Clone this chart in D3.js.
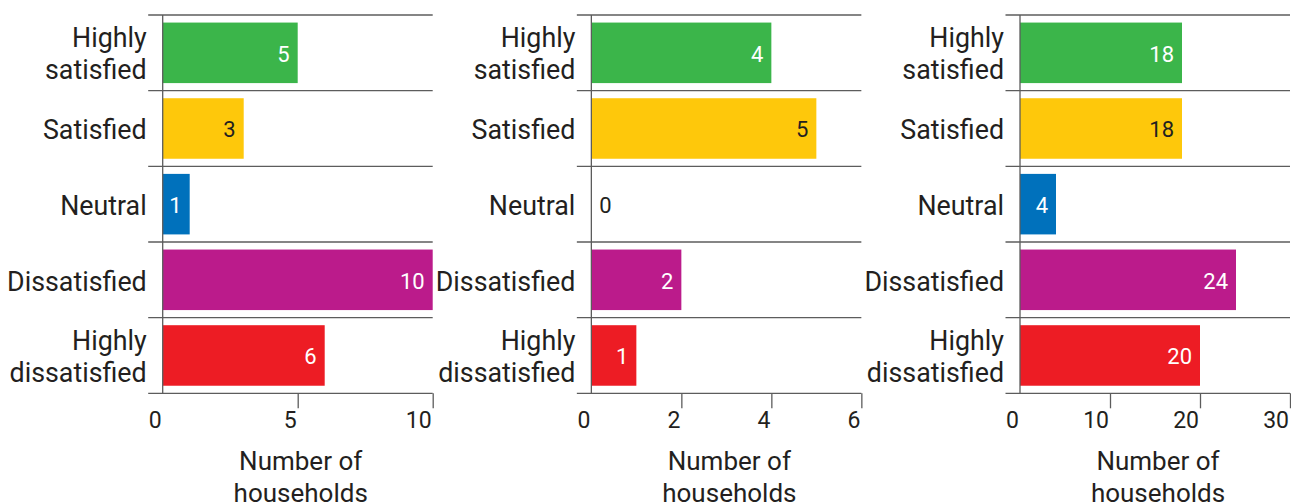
<!DOCTYPE html>
<html>
<head>
<meta charset="utf-8">
<script src="https://cdn.jsdelivr.net/npm/d3@7"></script>
<style>
  body { margin: 0; background: #fff; }
  svg { display: block; font-family: Roboto, "Noto Sans", sans-serif; }
</style>
</head>
<body>
<div id="chart"></div>
<script>
//Data: satisfaction categories and households per panel
const categories = ["Highly satisfied", "Satisfied", "Neutral", "Dissatisfied", "Highly dissatisfied"];
const categoryLines = [["Highly", "satisfied"], ["Satisfied"], ["Neutral"], ["Dissatisfied"], ["Highly", "dissatisfied"]];
const panel1Values = [5, 3, 1, 10, 6];
const panel2Values = [4, 5, 0, 2, 1];
const panel3Values = [18, 18, 4, 24, 20];
const panel1Ticks = [0, 5, 10];
const panel2Ticks = [0, 2, 4, 6];
const panel3Ticks = [0, 10, 20, 30];
const axisTitle = ["Number of", "households"];

const barColors = ["#3bb54a", "#fec80b", "#0071bc", "#bb1b8b", "#ed1c24"];
const labelColors = ["#ffffff", "#231f20", "#ffffff", "#ffffff", "#ffffff"];
const textColor = "#231f20";
const lineColor = "#5c5c5c";

const width = 1291;
const height = 503;

const panels = [
  { values: panel1Values, ticks: panel1Ticks },
  { values: panel2Values, ticks: panel2Ticks },
  { values: panel3Values, ticks: panel3Ticks }
];

//Panel geometry
const panelStep = 428.65;
const axisLeft = 162.7;
const plotWidth = 270;
const plotTop = 15;
const plotBottom = 393.3;

const svg = d3.select("#chart").append("svg")
  .attr("width", width)
  .attr("height", height);

const yscale = d3.scaleBand()
  .domain(categories)
  .range([plotTop, plotBottom])
  .paddingInner(0.2)
  .paddingOuter(0.1);

const step = yscale.step();
const rowTop = (d) => yscale(d) - step * 0.1;

panels.forEach((p, pi) => {
  const g = svg.append("g")
    .attr("transform", `translate(${pi * panelStep + axisLeft},0)`);

  const xscale = d3.scaleLinear()
    .domain([0, d3.max(p.ticks)])
    .range([0, plotWidth]);

  //horizontal row separators (incl. bottom axis line)
  const boundaries = categories.map(rowTop).concat([plotBottom]);
  g.selectAll(".row-line").data(boundaries).join("line")
    .attr("class", "row-line")
    .attr("x1", -14.5)
    .attr("x2", plotWidth)
    .attr("y1", (d) => d)
    .attr("y2", (d) => d)
    .attr("stroke", lineColor)
    .attr("stroke-width", 1.3);

  //bars
  g.selectAll(".bar").data(p.values).join("rect")
    .attr("class", "bar")
    .attr("x", 0)
    .attr("y", (d, i) => yscale(categories[i]))
    .attr("width", (d) => xscale(d) - xscale(0))
    .attr("height", yscale.bandwidth())
    .attr("fill", (d, i) => barColors[i]);

  //vertical axis line
  g.append("line")
    .attr("x1", 0).attr("x2", 0)
    .attr("y1", plotTop).attr("y2", plotBottom)
    .attr("stroke", lineColor)
    .attr("stroke-width", 1.3);

  //value labels
  g.selectAll(".value").data(p.values).join("text")
    .attr("class", "value")
    .attr("x", (d) => d === 0 ? 8 : xscale(d) - 8)
    .attr("y", (d, i) => yscale(categories[i]) + yscale.bandwidth() / 2 + 9)
    .attr("text-anchor", (d) => d === 0 ? "start" : "end")
    .attr("fill", (d, i) => d === 0 ? textColor : labelColors[i])
    .style("font-size", "22px")
    .text((d) => d);

  //category labels
  const labels = g.selectAll(".cat").data(categoryLines).join("text")
    .attr("class", "cat")
    .attr("text-anchor", "end")
    .attr("fill", textColor)
    .style("font-size", "26.8px");
  labels.each(function(lines, i) {
    const cy = rowTop(categories[i]) + step / 2;
    const first = lines.length === 1 ? cy + 10.8 : cy - 5.4;
    d3.select(this).selectAll("tspan").data(lines).join("tspan")
      .attr("x", -16)
      .attr("y", (d, j) => first + j * 31.6)
      .text((d) => d);
  });

  //x axis ticks and labels
  const xaxis = d3.axisBottom(xscale)
    .tickValues(p.ticks)
    .tickSize(15)
    .tickSizeOuter(0)
    .tickFormat(d3.format("d"));
  const gx = g.append("g")
    .attr("transform", `translate(0,${plotBottom})`)
    .call(xaxis);
  gx.select(".domain").remove();
  gx.selectAll(".tick line")
    .attr("stroke", lineColor)
    .attr("stroke-width", 1.3)
    .filter((d) => d === 0).remove();
  gx.selectAll(".tick text")
    .attr("x", -1.5)
    .attr("y", 35)
    .attr("dy", null)
    .attr("text-anchor", "end")
    .attr("fill", textColor)
    .style("font-size", "23px")
    .style("font-family", "Roboto, 'Noto Sans', sans-serif");

  //axis title (second line runs off the bottom edge, as in the source)
  g.append("text")
    .attr("text-anchor", "middle")
    .attr("fill", textColor)
    .style("font-size", "26px")
    .selectAll("tspan").data(axisTitle).join("tspan")
      .attr("x", plotWidth / 2 + 3)
      .attr("y", (d, j) => 470 + j * 31.5)
      .text((d) => d);
});
</script>
</body>
</html>
